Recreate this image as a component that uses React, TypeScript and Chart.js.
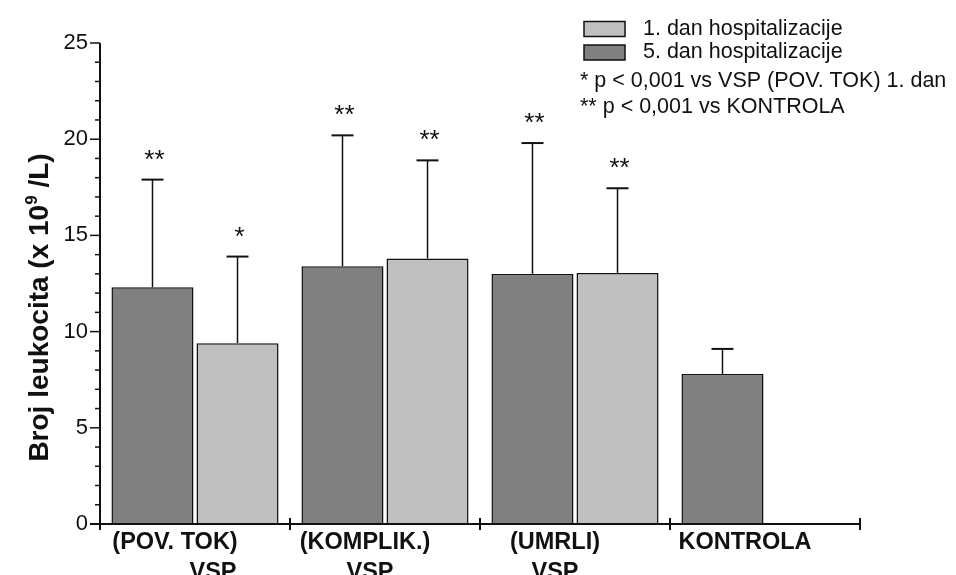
import { useEffect, useRef } from 'react';
import { Chart, registerables } from 'chart.js';

Chart.register(...registerables);

// Leukocyte count (x 10^9/L) by patient group, day 5 vs day 1 of hospitalisation
const categories = ['(POV. TOK)', '(KOMPLIK.)', '(UMRLI)', 'KONTROLA'];
const categorySubLabels = ['VSP', 'VSP', 'VSP', ''];

const day5Label = '5. dan hospitalizacije';
const day5Values = [12.3, 13.4, 13.0, 7.8];
const day5Sd = [5.6, 6.8, 6.8, 1.3];
const day5Marks = ['**', '**', '**', ''];

const day1Label = '1. dan hospitalizacije';
const day1Values: (number | null)[] = [9.4, 13.8, 13.05, null];
const day1Sd: (number | null)[] = [4.5, 5.1, 4.4, null];
const day1Marks = ['*', '**', '**', ''];

const yTicks = [0, 5, 10, 15, 20, 25];
const yMax = 25;
const yMinorStep = 1;

const footnotes = ['* p < 0,001 vs VSP (POV. TOK) 1. dan', '** p < 0,001 vs KONTROLA'];

const DARK = '#808080';
const LIGHT = '#c0c0c0';
const INK = '#111111';
const FONT = '"Liberation Sans", Arial, Helvetica, sans-serif';

// horizontal nudges of the label lines under each category
const labelShift = -20;
const subLabelShift = [38, 5, 0, 0];

const decorations = {
  id: 'decorations',
  afterDatasetsDraw(chart: any) {
    const { ctx, scales } = chart;
    const y = scales.y;
    const series = [
      { sd: day5Sd, marks: day5Marks },
      { sd: day1Sd, marks: day1Marks },
    ];
    ctx.save();
    series.forEach((s, di) => {
      const meta = chart.getDatasetMeta(di);
      meta.data.forEach((bar: any, i: number) => {
        const v = chart.data.datasets[di].data[i];
        const sd = s.sd[i];
        if (v == null || sd == null) return;
        const top = y.getPixelForValue(v + sd);
        ctx.strokeStyle = INK;
        ctx.lineWidth = 1.5;
        ctx.beginPath();
        ctx.moveTo(bar.x, bar.y);
        ctx.lineTo(bar.x, top);
        ctx.stroke();
        ctx.lineWidth = 2;
        ctx.beginPath();
        ctx.moveTo(bar.x - 11, top);
        ctx.lineTo(bar.x + 11, top);
        ctx.stroke();
        if (s.marks[i]) {
          ctx.fillStyle = INK;
          ctx.font = `26px ${FONT}`;
          ctx.textAlign = 'center';
          ctx.textBaseline = 'alphabetic';
          ctx.fillText(s.marks[i], bar.x + 2, top - 12);
        }
      });
    });
    ctx.restore();
  },
  afterDraw(chart: any) {
    const { ctx, chartArea: area, scales } = chart;
    const { x, y } = scales;
    ctx.save();
    ctx.strokeStyle = INK;
    ctx.fillStyle = INK;

    // y axis line and ticks
    const yTop = y.getPixelForValue(yMax);
    ctx.lineWidth = 2;
    ctx.beginPath();
    ctx.moveTo(area.left, yTop);
    ctx.lineTo(area.left, area.bottom);
    ctx.stroke();
    ctx.lineWidth = 1.5;
    for (let v = 0; v <= yMax; v += yMinorStep) {
      const py = y.getPixelForValue(v);
      const major = yTicks.includes(v);
      ctx.beginPath();
      ctx.moveTo(area.left - (major ? 10 : 5), py);
      ctx.lineTo(area.left, py);
      ctx.stroke();
    }
    ctx.font = `22px ${FONT}`;
    ctx.textAlign = 'right';
    ctx.textBaseline = 'middle';
    yTicks.forEach((v) => ctx.fillText(String(v), area.left - 12, y.getPixelForValue(v)));

    // x axis line, boundary ticks and category labels
    ctx.lineWidth = 2;
    ctx.beginPath();
    ctx.moveTo(area.left - 10, area.bottom);
    ctx.lineTo(area.right, area.bottom);
    ctx.stroke();
    for (let i = 0; i <= categories.length; i++) {
      const px = x.getPixelForValue(i - 0.5);
      ctx.beginPath();
      ctx.moveTo(px, area.bottom - 6);
      ctx.lineTo(px, area.bottom + 6);
      ctx.stroke();
    }
    ctx.font = `bold 23.5px ${FONT}`;
    ctx.textAlign = 'center';
    ctx.textBaseline = 'alphabetic';
    categories.forEach((c, i) => {
      const cx = x.getPixelForValue(i) + labelShift;
      ctx.fillText(c, cx, area.bottom + 25);
      if (categorySubLabels[i]) ctx.fillText(categorySubLabels[i], cx + subLabelShift[i], area.bottom + 55);
    });

    // y axis title with superscript exponent
    const mainFont = `bold 28px ${FONT}`;
    const supFont = `bold 17px ${FONT}`;
    const parts = ['Broj leukocita (x 10', '9', ' /L)'];
    ctx.font = mainFont;
    const w0 = ctx.measureText(parts[0]).width;
    const w2 = ctx.measureText(parts[2]).width;
    ctx.font = supFont;
    const w1 = ctx.measureText(parts[1]).width;
    const total = w0 + w1 + w2;
    ctx.translate(48, (area.top + area.bottom) / 2 + 24);
    ctx.rotate(-Math.PI / 2);
    ctx.textAlign = 'left';
    ctx.textBaseline = 'alphabetic';
    let tx = -total / 2;
    ctx.font = mainFont;
    ctx.fillText(parts[0], tx, 0);
    tx += w0;
    ctx.font = supFont;
    ctx.fillText(parts[1], tx, -11);
    tx += w1;
    ctx.font = mainFont;
    ctx.fillText(parts[2], tx, 0);
    ctx.restore();

    // legend with footnotes
    ctx.save();
    const legendItems = [
      { label: day1Label, color: LIGHT, y: 29 },
      { label: day5Label, color: DARK, y: 52.5 },
    ];
    ctx.font = `21.5px ${FONT}`;
    ctx.textBaseline = 'middle';
    ctx.textAlign = 'left';
    legendItems.forEach((it) => {
      ctx.fillStyle = it.color;
      ctx.fillRect(584, it.y - 7.5, 41, 15);
      ctx.strokeStyle = INK;
      ctx.lineWidth = 1.5;
      ctx.strokeRect(584, it.y - 7.5, 41, 15);
      ctx.fillStyle = INK;
      ctx.fillText(it.label, 643, it.y);
    });
    footnotes.forEach((f, i) => ctx.fillText(f, 580, 81 + i * 26));
    ctx.restore();
  },
};

export default function App() {
  const canvasRef = useRef<HTMLCanvasElement | null>(null);

  useEffect(() => {
    const canvas = canvasRef.current;
    if (!canvas) return;
    const chart = new Chart(canvas, {
      type: 'bar',
      data: {
        labels: categories,
        datasets: [
          {
            label: day5Label,
            data: day5Values,
            backgroundColor: DARK,
            borderColor: INK,
            borderWidth: 1.5,
          },
          {
            label: day1Label,
            data: day1Values,
            backgroundColor: LIGHT,
            borderColor: INK,
            borderWidth: 1.5,
          },
        ],
      },
      options: {
        responsive: false,
        animation: false,
        devicePixelRatio: 1,
        layout: { padding: { left: 100, right: 96, top: 43, bottom: 51 } },
        datasets: { bar: { categoryPercentage: 0.895, barPercentage: 0.965 } },
        scales: {
          x: { type: 'category', display: false, offset: true },
          y: { type: 'linear', display: false, min: 0, max: yMax },
        },
        plugins: {
          legend: { display: false },
          title: { display: false },
          tooltip: { enabled: false },
        },
      },
      plugins: [decorations],
    });
    return () => chart.destroy();
  }, []);

  return (
    <div style={{ position: 'absolute', left: 0, top: 0, width: 956, height: 575, background: '#fff' }}>
      <canvas ref={canvasRef} width={956} height={575} />
    </div>
  );
}
